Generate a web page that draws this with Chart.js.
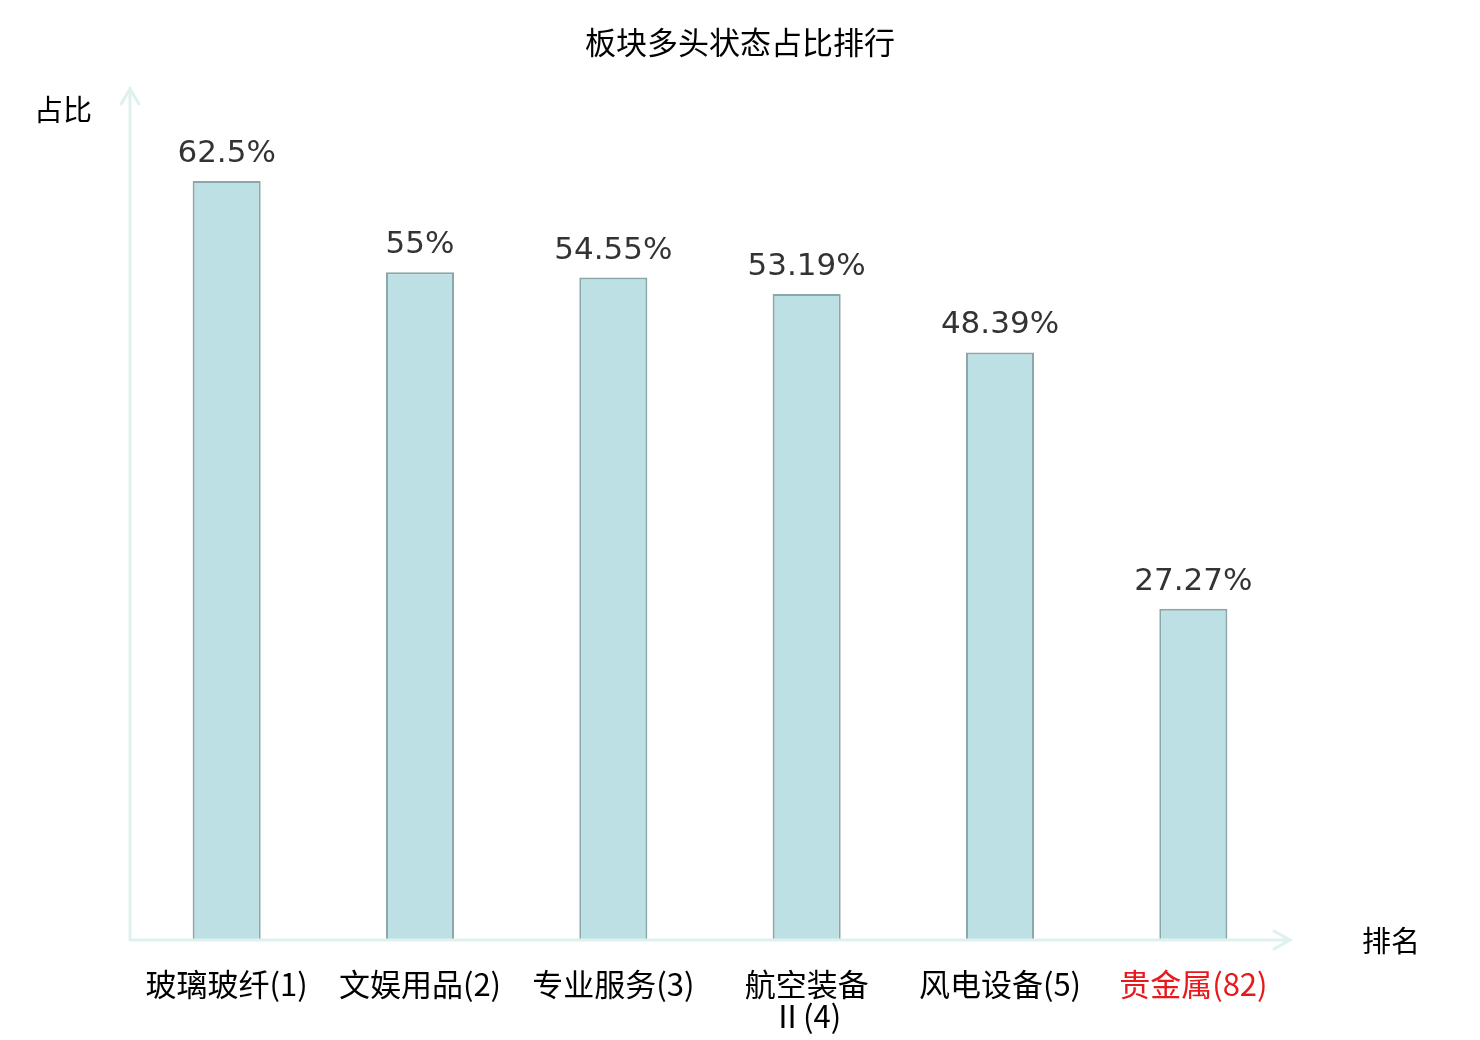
<!DOCTYPE html>
<html>
<head>
<meta charset="utf-8">
<script src="https://cdn.jsdelivr.net/npm/chart.js@4"></script>
<style>
    html, body { margin: 0; padding: 0; background: #fff; }
    #wrap { width: 1480px; height: 1040px; position: relative; }
</style>
</head>
<body>
<div id="wrap"><canvas id="rankChart"></canvas></div>
<script>
// data
const categories = ['玻璃玻纤(1)', '文娱用品(2)', '专业服务(3)', ['航空装备', 'Ⅱ(4)'], '风电设备(5)', '贵金属(82)'];
const ratios = [62.5, 55, 54.55, 53.19, 48.39, 27.27];
const ratioLabels = ['62.5%', '55%', '54.55%', '53.19%', '48.39%', '27.27%'];
const highlightIndex = 5;

const cjkFont = "'Noto Sans CJK SC', 'Noto Sans', sans-serif";
const axisColor = '#dff1ee';

// axes with arrows, titles and value labels
const decorPlugin = {
    id: 'decor',
    afterDatasetsDraw(chart) {
        const ctx = chart.ctx;
        const area = chart.chartArea;
        const yScale = chart.scales.y;
        const x0 = area.left, y0 = yScale.getPixelForValue(0);

        ctx.save();
        ctx.strokeStyle = axisColor;
        ctx.lineWidth = 3;
        ctx.lineCap = 'round';
        ctx.beginPath();
        // y axis
        ctx.moveTo(x0, y0);
        ctx.lineTo(x0, area.top - 2);
        ctx.moveTo(x0 - 9, area.top + 14);
        ctx.lineTo(x0, area.top - 1);
        ctx.lineTo(x0 + 9, area.top + 14);
        // x axis
        ctx.moveTo(x0, y0);
        ctx.lineTo(area.right, y0);
        ctx.moveTo(area.right - 16, y0 - 9);
        ctx.lineTo(area.right, y0);
        ctx.lineTo(area.right - 16, y0 + 9);
        ctx.stroke();

        // value labels above bars
        const meta = chart.getDatasetMeta(0);
        ctx.fillStyle = '#333';
        ctx.font = "31px 'DejaVu Sans', sans-serif";
        ctx.textAlign = 'center';
        ctx.textBaseline = 'middle';
        meta.data.forEach((bar, i) => {
            ctx.fillText(ratioLabels[i], bar.x, bar.y - 27);
        });

        // axis names
        ctx.fillStyle = '#000';
        ctx.font = '29px ' + cjkFont;
        ctx.fillText('占比', 63, 110);
        ctx.fillText('排名', 1391, 941);

        // title
        ctx.font = '31px ' + cjkFont;
        ctx.fillText('板块多头状态占比排行', 740, 42);
        ctx.restore();
    }
};

const ctx = document.getElementById('rankChart').getContext('2d');
new Chart(ctx, {
    type: 'bar',
    data: {
        labels: categories,
        datasets: [{
            data: ratios,
            backgroundColor: '#bde0e4',
            borderColor: '#8aa6a8',
            borderWidth: 2,
            barPercentage: 0.352,
            categoryPercentage: 1
        }]
    },
    options: {
        responsive: true,
        maintainAspectRatio: false,
        animation: false,
        layout: { padding: { left: 130, top: 90, right: 190, bottom: 0 } },
        plugins: {
            legend: { display: false },
            tooltip: { enabled: false }
        },
        scales: {
            x: {
                grid: { display: false },
                border: { display: false },
                afterFit(scale) { scale.height = 100; },
                ticks: {
                    autoSkip: false,
                    maxRotation: 0,
                    minRotation: 0,
                    padding: 20,
                    font: { family: cjkFont, size: 31, lineHeight: 1.03 },
                    color: c => c.index === highlightIndex ? '#e8191c' : '#000'
                }
            },
            y: {
                display: false,
                min: 0,
                max: 70
            }
        }
    },
    plugins: [decorPlugin]
});
</script>
</body>
</html>
